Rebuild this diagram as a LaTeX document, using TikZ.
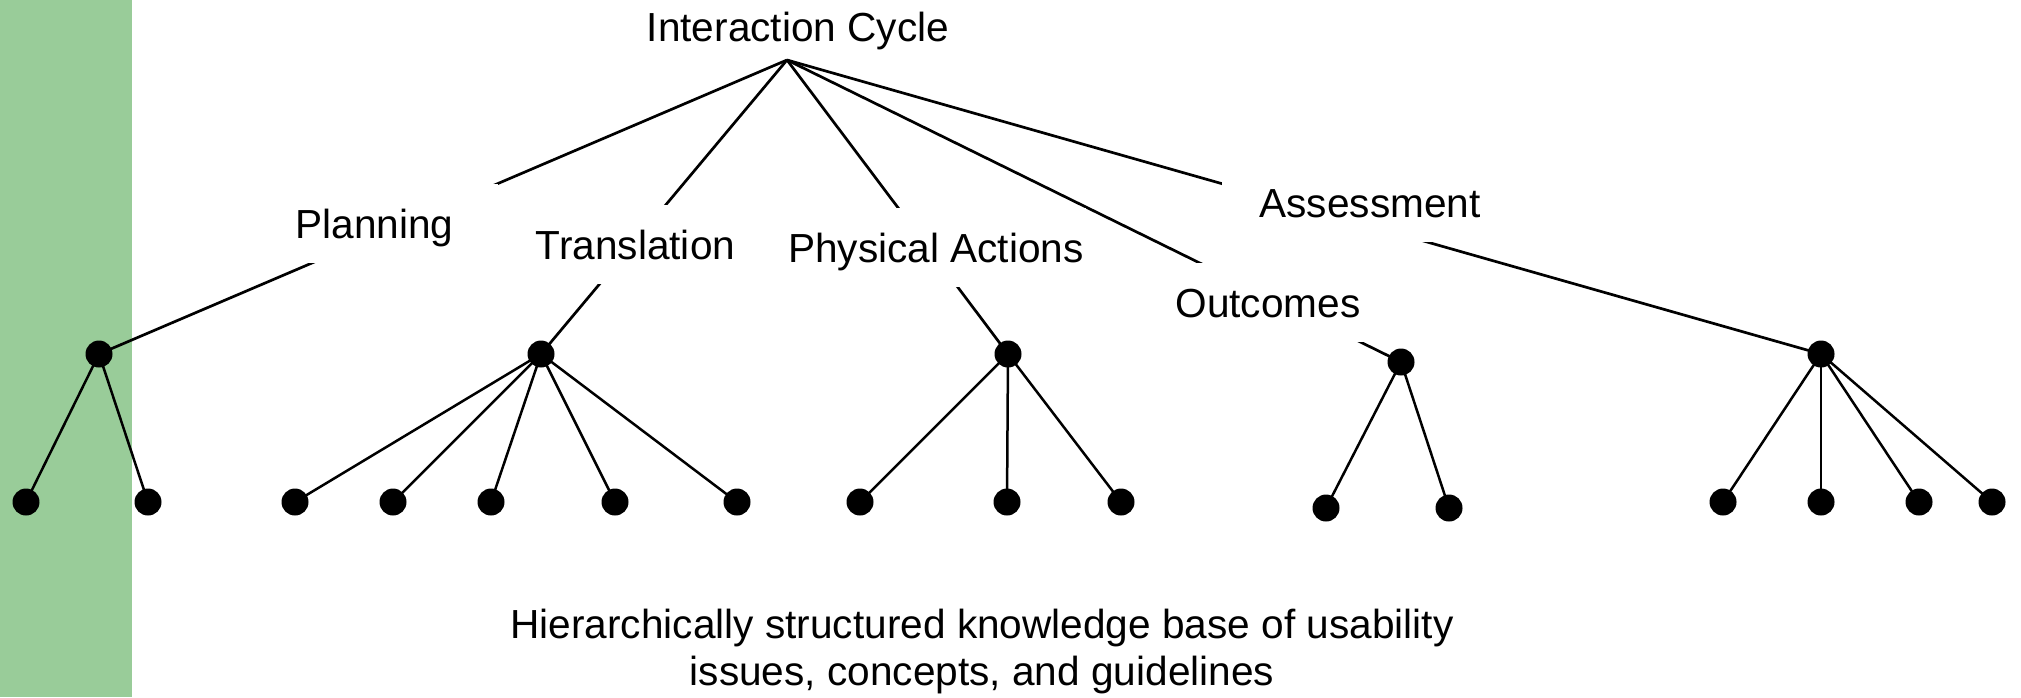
\documentclass[tikz,border=0pt]{standalone}
\usepackage{fontspec}
\setmainfont{Liberation Sans}
\definecolor{band}{RGB}{153,204,153}
\begin{document}
\begin{tikzpicture}[x=0.5pt,y=-0.5pt,
  every node/.style={font=\fontsize{20.3}{23.5}\selectfont},
  edge/.style={line width=1.35pt},
  twig/.style={line width=1.25pt},
  dot/.style={circle,fill=black,inner sep=0pt,minimum size=13.5pt},
  phase/.style={fill=white,inner xsep=20pt,inner ysep=12.5pt,
                text height=14.5pt,text depth=0pt,anchor=base}]
\useasboundingbox (0,0) rectangle (2021,697);
\fill[band] (0,0) rectangle (132,697);

% root of the tree
\node[anchor=base] (root) at (798,41) {Interaction Cycle};
\coordinate (apex) at (787,60);

% phase nodes
\coordinate (P) at (99,354);
\coordinate (T) at (541,354);
\coordinate (A) at (1008,354);
\coordinate (O) at (1401,362);
\coordinate (S) at (1821,354);

\foreach \c in {P,T,A,O,S} \draw[edge] (apex) -- (\c);

\node[phase,inner xsep=22pt]   (planning)    at (374.5,238) {Planning};
\node[phase]                   (translation) at (635.5,259) {Translation};
\node[phase,inner xsep=1pt]    (physical)    at (936,262)   {Physical Actions};
\node[phase]                   (outcomes)    at (1268,317)  {Outcomes};
\node[phase,inner xsep=18.5pt] (assessment)  at (1370,217)  {Assessment};

% leaves
\foreach \n/\x/\y in {p1/26/502,p2/148/502,
  t1/295/502,t2/393/502,t3/491/502,t4/615/502,t5/737/502,
  a1/860/502,a2/1007/502,a3/1121/502,
  o1/1326/508,o2/1449/508,
  s1/1723/502,s2/1821/502,s3/1919/502,s4/1992/502}
  \coordinate (\n) at (\x,\y);

\foreach \c/\l in {P/p1,P/p2,T/t1,T/t2,T/t3,T/t4,T/t5,A/a1,A/a2,A/a3,
  O/o1,O/o2,S/s1,S/s2,S/s3,S/s4}
  \draw[twig] (\c) -- (\l);

\foreach \c in {P,T,A,O,S,p1,p2,t1,t2,t3,t4,t5,a1,a2,a3,o1,o2,s1,s2,s3,s4}
  \node[dot] (d\c) at (\c) {};

% two-line caption, anchored on the baseline of its last line
\node[align=center,anchor=base] (caption) at (982,685)
  {Hierarchically structured knowledge base of usability\\issues, concepts, and guidelines};
\end{tikzpicture}
\end{document}
